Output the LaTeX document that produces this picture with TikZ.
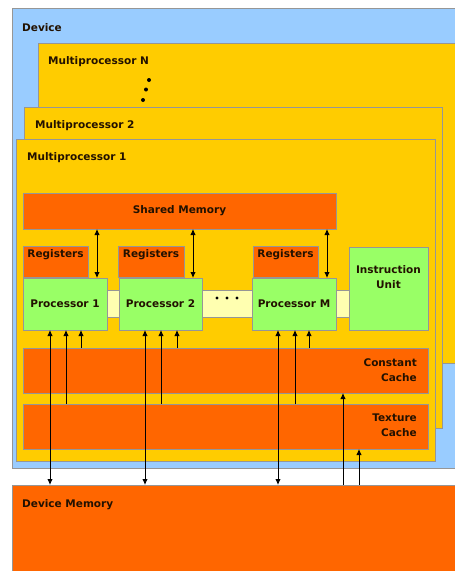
\documentclass[tikz,border=0pt]{standalone}
\usepackage{fontspec}
\setmainfont{DejaVu Sans}
\usetikzlibrary{arrows.meta}
\definecolor{devblue}{RGB}{153,204,255}
\definecolor{mpyellow}{RGB}{255,204,0}
\definecolor{memorange}{RGB}{255,102,0}
\definecolor{procgreen}{RGB}{153,255,102}
\definecolor{barlight}{RGB}{255,255,176}
\definecolor{bordergray}{RGB}{150,150,150}
\definecolor{textc}{RGB}{34,17,0}
\tikzset{
  box/.style={draw=bordergray, line width=0.8pt, inner sep=0pt, outer sep=0pt, anchor=north west,
    text=textc, font=\bfseries\fontsize{10.5}{15}\selectfont},
  regbox/.style={box, text height=8pt, text depth=17pt},
  lbl/.style={inner sep=0pt, text=textc, font=\bfseries\fontsize{10.5}{15}\selectfont},
  dblarrow/.style={line width=0.9pt, {Latex[length=6pt,width=5.5pt]}-{Latex[length=6pt,width=5.5pt]}},
  onearrow/.style={line width=0.9pt, -{Latex[length=6pt,width=5.5pt]}},
  dotfill/.style={fill=black}
}
\begin{document}
\begin{tikzpicture}[x=1pt,y=-1pt]
\useasboundingbox (0,0) rectangle (455,571);
% outer containers
\node[box, fill=devblue, minimum width=460pt, minimum height=460pt] (dev) at (12,8) {};
\node[lbl, anchor=base west] (devt) at (22,31) {Device};
\node[box, fill=mpyellow, minimum width=432pt, minimum height=320pt] (mpn) at (38,43) {};
\node[lbl, anchor=base west] (mpnt) at (48,64) {Multiprocessor N};
\fill[dotfill] (149,80) circle (2);
\fill[dotfill] (146,89.5) circle (2);
\fill[dotfill] (143,100) circle (2);
\node[box, fill=mpyellow, minimum width=418pt, minimum height=321pt] (mp2) at (24,107) {};
\node[lbl, anchor=base west] (mp2t) at (35,128) {Multiprocessor 2};
\node[box, fill=mpyellow, minimum width=419pt, minimum height=322pt] (mp1) at (16,139) {};
\node[lbl, anchor=base west] (mp1t) at (27,160) {Multiprocessor 1};
% inner parts
\node[box, fill=memorange, minimum width=313pt, minimum height=36pt] (sh) at (23,193) {Shared Memory};
\node[regbox, fill=memorange, minimum width=65pt, minimum height=31pt] (r1) at (23,246) {Registers};
\node[regbox, fill=memorange, minimum width=66pt, minimum height=31pt] (r2) at (118,246) {Registers};
\node[regbox, fill=memorange, minimum width=65pt, minimum height=31pt] (rm) at (253,246) {Registers};
\node[box, fill=barlight, minimum width=242pt, minimum height=27pt] (bar) at (107,290) {};
\node[box, fill=procgreen, minimum width=84pt, minimum height=52pt] (p1) at (23,278) {Processor 1};
\node[box, fill=procgreen, minimum width=83pt, minimum height=52pt] (p2) at (119,278) {Processor 2};
\node[box, fill=procgreen, minimum width=84pt, minimum height=52pt] (pm) at (252,278) {Processor M};
\fill[dotfill] (217,298) circle (1.7);
\fill[dotfill] (227,298) circle (1.7);
\fill[dotfill] (237,298) circle (1.7);
\node[box, fill=procgreen, minimum width=79pt, minimum height=83pt] (iu) at (349,247) {};
\node[lbl, anchor=north, align=center] (iut) at (388.5,265.3) {Instruction\\Unit};
\node[box, fill=memorange, minimum width=405pt, minimum height=45pt] (cc) at (23,348) {};
\node[lbl, anchor=north east, align=right] (cct) at (417,358.3) {Constant\\Cache};
\node[box, fill=memorange, minimum width=405pt, minimum height=45pt] (tc) at (23,404) {};
\node[lbl, anchor=north east, align=right] (tct) at (417,413.3) {Texture\\Cache};
\node[box, fill=memorange, minimum width=460pt, minimum height=100pt] (dm) at (12,485) {};
\node[lbl, anchor=base west] (dmt) at (22,507) {Device Memory};
% shared memory <-> processors
\draw[dblarrow] (sh.south -| 97,0) -- (p1.north -| 97,0);
\draw[dblarrow] (sh.south -| 193,0) -- (p2.north -| 193,0);
\draw[dblarrow] (sh.south -| 327,0) -- (pm.north -| 327,0);
% processors <-> device memory
\draw[dblarrow] (p1.south -| 50,0) -- (dm.north -| 50,0);
\draw[dblarrow] (p2.south -| 145,0) -- (dm.north -| 145,0);
\draw[dblarrow] (pm.south -| 278,0) -- (dm.north -| 278,0);
% texture cache -> processors
\draw[onearrow] (tc.north -| 66,0) -- (p1.south -| 66,0);
\draw[onearrow] (tc.north -| 161,0) -- (p2.south -| 161,0);
\draw[onearrow] (tc.north -| 295,0) -- (pm.south -| 295,0);
% constant cache -> processors
\draw[onearrow] (cc.north -| 81,0) -- (p1.south -| 81,0);
\draw[onearrow] (cc.north -| 177,0) -- (p2.south -| 177,0);
\draw[onearrow] (cc.north -| 309,0) -- (pm.south -| 309,0);
% device memory -> caches
\draw[onearrow] (dm.north -| 343,0) -- (cc.south -| 343,0);
\draw[onearrow] (dm.north -| 359,0) -- (tc.south -| 359,0);
\end{tikzpicture}
\end{document}
